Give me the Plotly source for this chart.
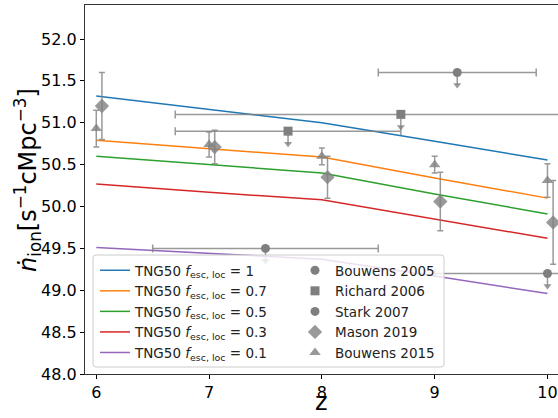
import plotly.graph_objects as go

# ---------------- data ----------------
z_sim = [6, 7, 8, 9, 10]
tng_f1 = [51.32, 51.16, 51.00, 50.78, 50.555]
tng_f07 = [50.79, 50.69, 50.59, 50.34, 50.10]
tng_f05 = [50.60, 50.50, 50.40, 50.15, 49.91]
tng_f03 = [50.27, 50.17, 50.08, 49.85, 49.62]
tng_f01 = [49.51, 49.44, 49.37, 49.17, 48.96]

tng_labels = ["1", "0.7", "0.5", "0.3", "0.1"]
tng_colors = ["#1f77b4", "#ff7f0e", "#2ca02c", "#d62728", "#9467bd"]

bouwens05_z = [7.5, 10.0]
bouwens05_zerr = [1.0, 1.0]
bouwens05_n = [49.5, 49.2]

richard06_z = [7.7, 8.7]
richard06_zerr = [1.0, 2.0]
richard06_n = [50.9, 51.1]

stark07_z = [9.2]
stark07_zerr = [0.7]
stark07_n = [51.6]

mason19_z = [6.05, 7.05, 8.05, 9.05, 10.05]
mason19_n = [51.2, 50.71, 50.35, 50.06, 49.81]
mason19_err = [0.4, 0.2, 0.25, 0.35, 0.5]

bouwens15_z = [6.0, 7.0, 8.0, 9.0, 10.0]
bouwens15_n = [50.93, 50.74, 50.60, 50.50, 50.31]
bouwens15_err = [0.22, 0.15, 0.10, 0.10, 0.20]

uplim_len = 0.15

FONT = "DejaVu Sans"
DARK = "#7f7f7f"
ERRC = "rgba(128,128,128,0.8)"
LIGHT = "rgba(128,128,128,0.8)"

fig = go.Figure()

for vals, lab, col in zip([tng_f1, tng_f07, tng_f05, tng_f03, tng_f01], tng_labels, tng_colors):
    fig.add_trace(go.Scatter(
        x=z_sim, y=vals, mode="lines", line=dict(color=col, width=1.5),
        name=f"TNG50 <i>f</i><sub>esc, loc</sub> = {lab}", legend="legend"))


def uplim(name, zs, zerr, ns, symbol, size):
    fig.add_trace(go.Scatter(
        x=zs, y=ns, mode="markers", name=name, legend="legend2",
        marker=dict(symbol=symbol, size=size, color=DARK),
        error_x=dict(type="data", array=zerr, color=ERRC, thickness=1.5, width=4),
        error_y=dict(type="data", symmetric=False, array=[0] * len(ns),
                     arrayminus=[uplim_len] * len(ns), color=ERRC, thickness=1.5, width=0)))
    fig.add_trace(go.Scatter(
        x=zs, y=[v - uplim_len for v in ns], mode="markers", showlegend=False,
        marker=dict(symbol="triangle-down", size=7, color=ERRC), hoverinfo="skip"))


uplim("Bouwens 2005", bouwens05_z, bouwens05_zerr, bouwens05_n, "circle", 9)
uplim("Richard 2006", richard06_z, richard06_zerr, richard06_n, "square", 9)
uplim("Stark 2007", stark07_z, stark07_zerr, stark07_n, "circle", 9)

fig.add_trace(go.Scatter(
    x=mason19_z, y=mason19_n, mode="markers", name="Mason 2019", legend="legend2",
    marker=dict(symbol="diamond", size=11, color=LIGHT),
    error_y=dict(type="data", array=mason19_err, color=ERRC, thickness=1.5, width=3)))

fig.add_trace(go.Scatter(
    x=bouwens15_z, y=bouwens15_n, mode="markers", name="Bouwens 2015", legend="legend2",
    marker=dict(symbol="triangle-up", size=10, color=LIGHT),
    error_y=dict(type="data", array=bouwens15_err, color=ERRC, thickness=1.5, width=3)))

L, R, T, B = 85, 558, 5, 374
def px(x):
    return (x - L) / (R - L)
def py(y):
    return (B - y) / (B - T)

# legend frame with rounded corners (paper coords)
x0, x1, ytop, ybot, r = 93, 444, 255, 367, 3
rx, ry = r / (R - L), r / (B - T)
X0, X1, Y0, Y1 = px(x0), px(x1), py(ybot), py(ytop)
path = (f"M {X0+rx},{Y0} L {X1-rx},{Y0} Q {X1},{Y0} {X1},{Y0+ry} "
        f"L {X1},{Y1-ry} Q {X1},{Y1} {X1-rx},{Y1} L {X0+rx},{Y1} "
        f"Q {X0},{Y1} {X0},{Y1-ry} L {X0},{Y0+ry} Q {X0},{Y0} {X0+rx},{Y0} Z")
fig.add_shape(type="path", xref="paper", yref="paper", path=path,
              fillcolor="rgba(255,255,255,0.8)", line=dict(color="#cccccc", width=1),
              layer="above")

# axis titles
fig.add_annotation(text="z", xref="paper", yref="paper", x=px(321), y=py(417.5),
                   xanchor="center", yanchor="bottom", showarrow=False,
                   font=dict(size=24, family=FONT, color="black"))
fig.add_annotation(text="<i>ṅ</i><sub>ion</sub>[s<sup>−1</sup>cMpc<sup>−3</sup>]",
                   xref="paper", yref="paper", x=px(27), y=py(180), textangle=-90,
                   xanchor="center", yanchor="middle", showarrow=False,
                   font=dict(size=24, family=FONT, color="black"))

fig.update_layout(
    width=558, height=418,
    margin=dict(l=L, r=558 - R, t=T, b=418 - B, autoexpand=False),
    plot_bgcolor="white", paper_bgcolor="white",
    font=dict(family=FONT, color="black", size=14),
    showlegend=True,
    legend=dict(x=px(95), y=py(255), xanchor="left", yanchor="top",
                bgcolor="rgba(0,0,0,0)", borderwidth=0,
                font=dict(size=13.5, family=FONT, color="#222"), tracegroupgap=0,
                itemwidth=30),
    legend2=dict(x=px(295), y=py(255), xanchor="left", yanchor="top",
                 bgcolor="rgba(0,0,0,0)", borderwidth=0,
                 font=dict(size=13.5, family=FONT, color="#222"), tracegroupgap=0,
                 itemwidth=30),
    xaxis=dict(range=[5.9, 5.9 + (R - L) / 112.8], tickvals=[6, 7, 8, 9, 10],
               ticks="outside", ticklen=4, tickwidth=1, tickcolor="black",
               showline=True, linecolor="#333", linewidth=1.2, mirror=True,
               showgrid=False, zeroline=False, automargin=False,
               tickfont=dict(size=16, family=FONT, color="black")),
    yaxis=dict(range=[48.0, 48.0 + (B - T) / 83.75], tickvals=[48, 48.5, 49, 49.5, 50, 50.5, 51, 51.5, 52],
               tickformat=".1f",
               ticks="outside", ticklen=4, tickwidth=1, tickcolor="black",
               showline=True, linecolor="#333", linewidth=1.2, mirror=False,
               showgrid=False, zeroline=False, automargin=False,
               tickfont=dict(size=16, family=FONT, color="black")),
)

fig.write_html("out.html")
